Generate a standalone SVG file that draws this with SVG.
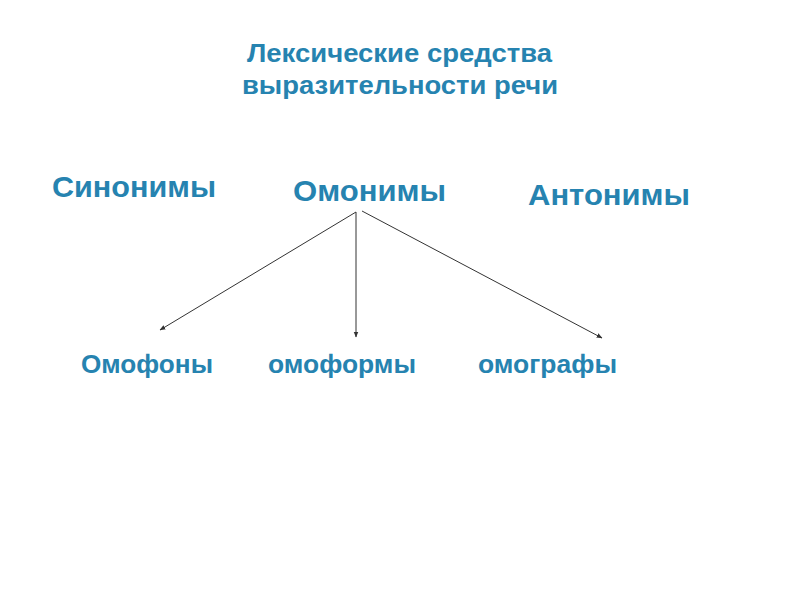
<svg xmlns="http://www.w3.org/2000/svg" width="800" height="600" viewBox="0 0 800 600">
<defs>
<style>
text{font-family:"Liberation Sans",Arial,sans-serif;font-weight:bold;fill:#2683b0}
.t{font-size:25px}
.m{font-size:30px}
.s{font-size:26px}
.c{stroke:#333;stroke-width:1;fill:none;marker-end:url(#ah)}
</style>
<marker id="ah" viewBox="0 0 10 10" refX="9" refY="5" markerWidth="6" markerHeight="6" orient="auto" markerUnits="userSpaceOnUse">
<path d="M0,1 L10,5 L0,9 Z" fill="#333"/>
</marker>
</defs>
<rect width="800" height="600" fill="#fff"/>
<g id="title">
<text class="t" x="247" y="62" textLength="305" lengthAdjust="spacingAndGlyphs">Лексические средства</text>
<text class="t" x="242" y="94" textLength="316" lengthAdjust="spacingAndGlyphs">выразительности речи</text>
</g>
<g id="synonyms"><text class="m" x="52" y="197" textLength="164" lengthAdjust="spacingAndGlyphs">Синонимы</text></g>
<g id="homonyms"><text class="m" x="293" y="201" textLength="153" lengthAdjust="spacingAndGlyphs">Омонимы</text></g>
<g id="antonyms"><text class="m" x="528" y="205" textLength="162" lengthAdjust="spacingAndGlyphs">Антонимы</text></g>
<g id="homophones"><text class="s" x="81" y="373" textLength="132" lengthAdjust="spacingAndGlyphs">Омофоны</text></g>
<g id="homoforms"><text class="s" x="268" y="373" textLength="148" lengthAdjust="spacingAndGlyphs">омоформы</text></g>
<g id="homographs"><text class="s" x="478" y="373" textLength="139" lengthAdjust="spacingAndGlyphs">омографы</text></g>
<g id="connectors">
<line class="c" x1="356" y1="212" x2="160" y2="330"/>
<line class="c" x1="356" y1="212" x2="356" y2="337"/>
<line class="c" x1="362" y1="211" x2="602" y2="338"/>
</g>
</svg>
